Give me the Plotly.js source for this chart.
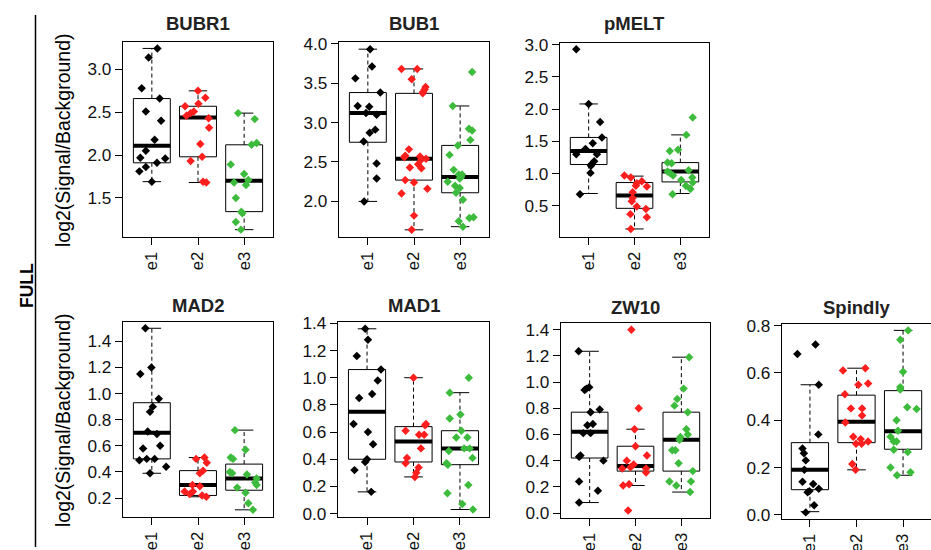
<!DOCTYPE html>
<html>
<head>
<meta charset="utf-8">
<script src="https://cdn.plot.ly/plotly-3.0.1.min.js"></script>
<style>html,body{margin:0;padding:0;background:#fff;}#chart{width:931px;height:550px;}</style>
</head>
<body>
<div id="chart"></div>
<script>
// ---------- DATA ----------
const categories = ['e1', 'e2', 'e3'];
const panelNames = ['BUBR1', 'BUB1', 'pMELT', 'MAD2', 'MAD1', 'ZW10', 'Spindly'];
const groupColors = ['#000000', '#FF1E1E', '#3CBB3C'];

// box statistics per group: [lower whisker, Q1, median, Q3, upper whisker]
const BUBR1_stats = [[1.69, 1.91, 2.11, 2.66, 3.245], [1.68, 1.98, 2.44, 2.57, 2.75], [1.13, 1.34, 1.70, 2.12, 2.49]];
const BUB1_stats = [[2.00, 2.75, 3.12, 3.38, 3.93], [1.64, 2.27, 2.54, 3.37, 3.68], [1.68, 2.11, 2.31, 2.71, 3.21]];
const pMELT_stats = [[0.69, 1.14, 1.35, 1.56, 2.08], [0.14, 0.46, 0.66, 0.86, 0.96], [0.69, 0.87, 1.03, 1.17, 1.60]];
const MAD2_stats = [[0.39, 0.50, 0.70, 0.93, 1.50], [0.21, 0.22, 0.30, 0.41, 0.51], [0.11, 0.26, 0.35, 0.46, 0.72]];
const MAD1_stats = [[0.16, 0.40, 0.75, 1.06, 1.36], [0.27, 0.38, 0.53, 0.64, 1.00], [0.03, 0.36, 0.48, 0.61, 0.89]];
const ZW10_stats = [[0.08, 0.42, 0.62, 0.77, 1.235], [0.21, 0.32, 0.36, 0.51, 0.64], [0.16, 0.32, 0.56, 0.77, 1.19]];
const Spindly_stats = [[0.013, 0.106, 0.19, 0.305, 0.55], [0.19, 0.305, 0.393, 0.506, 0.62], [0.167, 0.277, 0.353, 0.525, 0.78]];

// individual points (values) and their horizontal jitter
const BUBR1_e1 = [3.245, 3.14, 2.78, 2.66, 2.51, 2.40, 2.18, 2.05, 1.97, 1.96, 1.91, 1.86, 1.81, 1.69];
const BUBR1_e1_jit = [0.12, -0.07, -0.22, 0.17, -0.13, 0.20, 0.06, -0.13, -0.25, 0.29, 0.11, -0.13, -0.27, 0];
const BUBR1_e2 = [2.75, 2.67, 2.57, 2.60, 2.51, 2.49, 2.46, 2.43, 2.32, 2.13, 1.98, 1.93, 1.69, 1.68];
const BUBR1_e2_jit = [0, 0.16, -0.28, 0.01, -0.09, -0.16, -0.25, 0.23, 0.24, 0.05, 0.09, -0.16, 0.11, 0.18];
const BUBR1_e3 = [2.49, 2.42, 2.14, 2.12, 1.89, 1.78, 1.71, 1.68, 1.65, 1.50, 1.34, 1.32, 1.22, 1.13];
const BUBR1_e3_jit = [-0.13, 0.23, 0.27, 0.16, -0.29, 0, 0.09, -0.22, 0.04, -0.18, -0.06, -0.04, -0.18, -0.07];

const BUB1_e1 = [3.93, 3.71, 3.56, 3.38, 3.21, 3.20, 3.12, 3.10, 2.91, 2.87, 2.76, 2.48, 2.29, 2.00];
const BUB1_e1_jit = [0.05, 0.09, -0.27, 0.27, -0.22, 0.03, -0.04, 0.19, 0.16, 0.04, -0.09, 0.19, 0.19, -0.08];
const BUB1_e2 = [3.68, 3.68, 3.55, 3.45, 3.42, 3.39, 3.37, 2.66, 2.58, 2.56, 2.57, 2.53, 2.54, 2.47, 2.43, 2.42, 2.27, 2.24, 2.16, 2.10, 1.82, 1.64];
const BUB1_e2_jit = [-0.27, 0.07, -0.05, 0.25, 0.23, 0.20, 0.19, -0.11, -0.19, -0.21, 0.13, 0.16, 0.26, 0.09, -0.09, 0.16, -0.19, 0, 0.29, -0.27, 0, -0.05];
const BUB1_e3 = [3.64, 3.21, 2.92, 2.90, 2.78, 2.71, 2.59, 2.40, 2.34, 2.34, 2.31, 2.29, 2.25, 2.20, 2.17, 2.11, 2.02, 1.75, 1.79, 1.80, 1.68];
const BUB1_e3_jit = [0.26, -0.16, 0.19, 0.26, 0.22, -0.05, -0.23, -0.14, -0.03, 0.04, 0.02, -0.01, -0.27, -0.11, -0.01, -0.09, 0.06, -0.03, 0.20, 0.29, 0.06];

const pMELT_e1 = [2.93, 2.08, 1.80, 1.56, 1.47, 1.38, 1.30, 1.30, 1.19, 1.15, 1.12, 1.01, 0.68];
const pMELT_e1_jit = [-0.27, 0, 0.25, 0.29, 0.09, -0.07, -0.27, 0.18, 0.12, 0.07, 0.05, 0.04, -0.19];
const pMELT_e2 = [0.97, 0.94, 0.88, 0.85, 0.81, 0.80, 0.71, 0.62, 0.57, 0.49, 0.45, 0.37, 0.32, 0.14];
const pMELT_e2_jit = [-0.22, -0.08, 0.16, 0.05, 0.03, 0.27, -0.04, -0.04, -0.06, 0.05, 0.25, -0.09, 0.27, -0.08];
const pMELT_e3 = [1.87, 1.60, 1.35, 1.37, 1.17, 1.16, 1.03, 1.01, 0.97, 1.05, 0.90, 0.94, 0.86, 0.81, 0.76, 0.68];
const pMELT_e3_jit = [0.27, 0.13, -0.23, -0.05, -0.28, -0.19, -0.28, -0.23, -0.16, 0.18, 0.02, 0.26, 0.27, 0.12, 0.22, -0.17];

const MAD2_e1 = [1.50, 1.15, 1.20, 0.96, 0.90, 0.86, 0.71, 0.69, 0.58, 0.60, 0.49, 0.50, 0.50, 0.44, 0.39];
const MAD2_e1_jit = [-0.14, -0.25, -0.01, 0.15, 0.02, -0.04, -0.09, 0.11, -0.19, 0.18, -0.27, -0.11, 0.06, 0.31, -0.04];
const MAD2_e2 = [0.51, 0.50, 0.47, 0.41, 0.39, 0.30, 0.29, 0.25, 0.25, 0.23, 0.22, 0.21];
const MAD2_e2_jit = [0.14, -0.04, 0.19, 0.11, 0.04, -0.12, 0.04, -0.29, -0.11, -0.18, 0.09, 0.18];
const MAD2_e3 = [0.72, 0.51, 0.50, 0.57, 0.40, 0.39, 0.38, 0.35, 0.32, 0.30, 0.28, 0.24, 0.16, 0.11];
const MAD2_e3_jit = [-0.2, -0.29, -0.24, 0.03, -0.31, -0.26, 0.06, 0.27, 0.24, 0.27, -0.15, 0.03, 0.09, 0.19];

const MAD1_e1 = [1.36, 1.28, 1.16, 1.06, 0.98, 0.85, 0.88, 0.66, 0.60, 0.51, 0.40, 0.38, 0.32, 0.16];
const MAD1_e1_jit = [-0.04, 0.02, -0.22, 0.30, 0.23, -0.17, 0.11, -0.29, 0.02, 0.13, 0, -0.04, -0.27, 0.09];
const MAD1_e2 = [1.00, 0.66, 0.65, 0.61, 0.58, 0.58, 0.48, 0.41, 0.37, 0.34, 0.30, 0.27];
const MAD1_e2_jit = [0, 0.27, 0.25, -0.17, 0.12, 0.23, 0.16, -0.14, -0.17, 0.11, 0.06, 0.03];
const MAD1_e3 = [1.00, 0.89, 0.70, 0.73, 0.61, 0.56, 0.56, 0.46, 0.48, 0.48, 0.41, 0.37, 0.36, 0.15, 0.21, 0.07, 0.03];
const MAD1_e3_jit = [0.19, -0.22, -0.22, 0.01, 0.03, -0.08, 0.16, -0.24, 0.09, 0.21, 0.27, -0.29, -0.26, -0.27, 0.18, 0.05, 0.28];

const ZW10_e1 = [1.235, 0.96, 0.95, 0.94, 0.79, 0.77, 0.68, 0.67, 0.61, 0.61, 0.44, 0.43, 0.40, 0.24, 0.17, 0.08];
const ZW10_e1_jit = [-0.24, -0.01, -0.07, -0.11, 0.22, 0.02, 0.07, -0.05, -0.14, 0.02, -0.2, -0.23, 0.3, -0.23, 0.18, -0.23];
const ZW10_e2 = [1.40, 0.80, 0.64, 0.51, 0.44, 0.40, 0.37, 0.34, 0.35, 0.34, 0.31, 0.21, 0.22, 0.02];
const ZW10_e2_jit = [-0.09, 0.07, -0.02, 0, 0.25, -0.19, -0.04, -0.29, -0.11, 0.23, 0.23, -0.27, -0.14, -0.16];
const ZW10_e3 = [1.19, 0.95, 0.87, 0.82, 0.77, 0.64, 0.60, 0.58, 0.56, 0.48, 0.48, 0.38, 0.32, 0.24, 0.24, 0.21, 0.16];
const ZW10_e3_jit = [0.17, 0.05, -0.09, -0.15, 0.14, 0.11, 0.14, -0.02, -0.04, -0.2, -0.13, -0.06, 0.25, -0.26, 0.21, -0.11, 0.19];

const Spindly_e1 = [0.72, 0.68, 0.55, 0.34, 0.28, 0.26, 0.23, 0.19, 0.14, 0.13, 0.11, 0.10, 0.095, 0.04, 0.01];
const Spindly_e1_jit = [0.12, -0.27, 0.19, 0.18, -0.16, -0.13, -0.09, -0.12, -0.16, 0.07, 0.19, -0.01, -0.05, 0.09, -0.09];
const Spindly_e2 = [0.61, 0.62, 0.55, 0.555, 0.51, 0.45, 0.45, 0.42, 0.39, 0.33, 0.32, 0.31, 0.30, 0.30, 0.215, 0.19];
const Spindly_e2_jit = [-0.29, 0.19, 0.04, 0.25, -0.25, -0.12, 0.12, 0.12, -0.24, -0.07, 0.09, 0.25, -0.01, 0.11, -0.09, -0.02];
const Spindly_e3 = [0.78, 0.74, 0.605, 0.54, 0.53, 0.455, 0.447, 0.40, 0.355, 0.33, 0.31, 0.31, 0.275, 0.265, 0.20, 0.18, 0.167];
const Spindly_e3_jit = [0.11, -0.06, 0, -0.06, -0.06, 0.09, 0.29, -0.14, -0.11, -0.27, -0.2, -0.14, -0.2, 0.1, -0.27, 0.16, -0.13];

const yLabel = 'log2(Signal/Background)';
const rowLabel = 'FULL';

// ---------- LAYOUT CONFIG (pixels) ----------
const W = 931, H = 550;
// frame [left, right, top, bottom]
const frames = [[123, 273, 42, 237], [339, 489, 42, 237], [560, 709, 43, 237],
                [123, 273, 322, 517], [338, 489, 322, 517], [561, 710, 323, 518], [782, 931, 324, 519]];
const yRanges = [[1.044, 3.32], [1.549, 4.021], [0.015, 3.026], [0.055, 1.548], [-0.025, 1.41], [-0.038, 1.451], [-0.018, 0.807]];
const yDticks = [0.5, 0.5, 0.5, 0.2, 0.2, 0.2, 0.2];
const xRanges = [[0.375, 3.625], [0.375, 3.625], [0.375, 3.625], [0.375, 3.625], [0.375, 3.625], [0.375, 3.625], [0.4, 3.6]];
const titleY = [23, 23, 23, 305, 305, 307, 307];

const statsAll = [BUBR1_stats, BUB1_stats, pMELT_stats, MAD2_stats, MAD1_stats, ZW10_stats, Spindly_stats];
const pointsAll = [
  [[BUBR1_e1, BUBR1_e1_jit], [BUBR1_e2, BUBR1_e2_jit], [BUBR1_e3, BUBR1_e3_jit]],
  [[BUB1_e1, BUB1_e1_jit], [BUB1_e2, BUB1_e2_jit], [BUB1_e3, BUB1_e3_jit]],
  [[pMELT_e1, pMELT_e1_jit], [pMELT_e2, pMELT_e2_jit], [pMELT_e3, pMELT_e3_jit]],
  [[MAD2_e1, MAD2_e1_jit], [MAD2_e2, MAD2_e2_jit], [MAD2_e3, MAD2_e3_jit]],
  [[MAD1_e1, MAD1_e1_jit], [MAD1_e2, MAD1_e2_jit], [MAD1_e3, MAD1_e3_jit]],
  [[ZW10_e1, ZW10_e1_jit], [ZW10_e2, ZW10_e2_jit], [ZW10_e3, ZW10_e3_jit]],
  [[Spindly_e1, Spindly_e1_jit], [Spindly_e2, Spindly_e2_jit], [Spindly_e3, Spindly_e3_jit]]
];

const FONT = 'Liberation Sans, Arial, Helvetica, sans-serif';
const traces = [];
const layout = {
  width: W, height: H,
  margin: {l: 0, r: 0, t: 0, b: 0},
  paper_bgcolor: '#fff', plot_bgcolor: 'rgba(0,0,0,0)',
  showlegend: false,
  font: {family: FONT, color: '#000', size: 16},
  annotations: [], shapes: []
};

const BW = 0.4, CW = 0.2;
panelNames.forEach((name, i) => {
  const s = i === 0 ? '' : String(i + 1);
  const xa = 'x' + s, ya = 'y' + s;
  const f = frames[i];
  layout['xaxis' + s] = {
    domain: [f[0] / W, f[1] / W], range: xRanges[i], anchor: ya,
    tickvals: [1, 2, 3], ticktext: categories, tickangle: -90,
    ticks: 'outside', ticklen: 7, tickcolor: '#000', tickwidth: 1,
    showline: true, mirror: true, linecolor: '#000', linewidth: 1.2,
    showgrid: false, zeroline: false, fixedrange: true,
    tickfont: {size: 16.5, family: FONT, color: '#111'}
  };
  layout['yaxis' + s] = {
    domain: [1 - f[3] / H, 1 - f[2] / H], range: yRanges[i], anchor: xa,
    tick0: 0, dtick: yDticks[i], tickformat: '.1f',
    ticks: 'outside', ticklen: 7, tickcolor: '#000', tickwidth: 1,
    showline: true, mirror: true, linecolor: '#000', linewidth: 1.2,
    showgrid: false, zeroline: false, fixedrange: true,
    tickfont: {size: 17.2, family: FONT, color: '#111'}
  };
  layout.annotations.push({
    text: '<b>' + name + '</b>', xref: 'paper', yref: 'paper',
    x: (f[0] + f[1]) / 2 / W, y: 1 - titleY[i] / H, xanchor: 'center', yanchor: 'middle',
    showarrow: false, font: {size: 18.5, family: FONT, color: '#222'}
  });

  statsAll[i].forEach((st, g) => {
    const c = g + 1;
    const [lo, q1, med, q3, hi] = st;
    // whiskers
    traces.push({type: 'scatter', mode: 'lines', xaxis: xa, yaxis: ya, hoverinfo: 'skip',
      x: [c, c, null, c, c], y: [q3, hi, null, q1, lo],
      line: {color: '#000', width: 1, dash: '4px,3px'}});
    // caps
    traces.push({type: 'scatter', mode: 'lines', xaxis: xa, yaxis: ya, hoverinfo: 'skip',
      x: [c - CW, c + CW, null, c - CW, c + CW], y: [hi, hi, null, lo, lo],
      line: {color: '#000', width: 1}});
    // box
    traces.push({type: 'scatter', mode: 'lines', xaxis: xa, yaxis: ya, hoverinfo: 'skip',
      x: [c - BW, c + BW, c + BW, c - BW, c - BW], y: [q1, q1, q3, q3, q1],
      line: {color: '#000', width: 1}});
    // median
    traces.push({type: 'scatter', mode: 'lines', xaxis: xa, yaxis: ya, hoverinfo: 'skip',
      x: [c - BW, c + BW], y: [med, med],
      line: {color: '#000', width: 4}});
  });
  pointsAll[i].forEach((pj, g) => {
    const c = g + 1;
    const vals = pj[0], jit = pj[1];
    traces.push({type: 'scatter', mode: 'markers', xaxis: xa, yaxis: ya,
      name: name + ' ' + categories[g],
      x: jit.map(d => c + d), y: vals,
      marker: {symbol: 'diamond', size: 6.5, color: groupColors[g], line: {width: 0}}});
  });
});

// y-axis titles
[[63, 140], [63, 420]].forEach(p => {
  layout.annotations.push({text: yLabel, xref: 'paper', yref: 'paper',
    x: p[0] / W, y: 1 - p[1] / H, xanchor: 'center', yanchor: 'middle', textangle: -90,
    showarrow: false, font: {size: 19.5, family: FONT, color: '#000'}});
});
layout.annotations.push({text: '<b>' + rowLabel + '</b>', xref: 'paper', yref: 'paper',
  x: 27 / W, y: 1 - 286 / H, xanchor: 'center', yanchor: 'middle', textangle: -90,
  showarrow: false, font: {size: 17.5, family: FONT, color: '#000'}});
layout.shapes.push({type: 'line', xref: 'paper', yref: 'paper',
  x0: 35.5 / W, x1: 35.5 / W, y0: 1 - 15 / H, y1: 1 - 547 / H, line: {color: '#000', width: 1.5}});

Plotly.newPlot('chart', traces, layout, {displayModeBar: false, staticPlot: true});
</script>
</body>
</html>
